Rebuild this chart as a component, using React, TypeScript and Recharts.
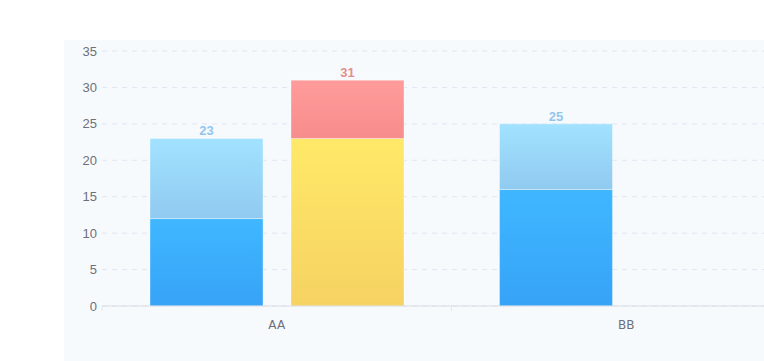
import React from 'react';
import { BarChart, Bar, XAxis, YAxis, CartesianGrid, LabelList } from 'recharts';

const categories = ['AA', 'BB'];
const blueBase = [12, 16];
const blueTop = [11, 9];
const blueTotal = [23, 25];
const yellowBase: (number | null)[] = [23, null];
const redTop: (number | null)[] = [8, null];
const warmTotal: (number | null)[] = [31, null];
const yTicks = [0, 5, 10, 15, 20, 25, 30, 35];

const data = categories.map((name, i) => ({
  name,
  blueBase: blueBase[i],
  blueTop: blueTop[i],
  blueTotal: blueTotal[i],
  yellowBase: yellowBase[i],
  redTop: redTop[i],
  warmTotal: warmTotal[i],
}));

const TICK_SIZE = 5;
const TICK_MARGIN = 9;

// category label plus faint boundary tick marks (ticks sit between bands)
const CategoryTick = (props: any) => {
  const { x, y, payload } = props;
  const axisY = y - TICK_SIZE - TICK_MARGIN;
  const half = payload && payload.offset ? payload.offset : 0;
  return (
    <g>
      <line x1={x - half} x2={x - half} y1={axisY} y2={axisY + TICK_SIZE} stroke="#e4e7ee" />
      <line x1={x + half} x2={x + half} y1={axisY} y2={axisY + TICK_SIZE} stroke="#e4e7ee" />
      <text x={x} y={y} dy="0.71em" textAnchor="middle" fill="#6E7079" fontSize={12} fontFamily="'DejaVu Sans', sans-serif">
        {payload.value}
      </text>
    </g>
  );
};

const barStroke = 'rgba(255,255,255,0.35)';
const labelFont = "'Liberation Sans', Arial, sans-serif";

export default function App() {
  return (
    <div style={{ position: 'fixed', left: 0, top: 0, width: 764, height: 361, overflow: 'hidden', background: '#fff' }}>
      <div style={{ position: 'absolute', left: 64, top: 40, width: 700, height: 321, background: '#f7fafd' }} />
      <div style={{ position: 'absolute', left: 8, top: 8 }}>
        <BarChart
          width={800}
          height={353}
          data={data}
          margin={{ top: 43, right: 7, bottom: 25, left: 54 }}
          barCategoryGap={48}
          barGap={28}
        >
          <defs>
            <linearGradient id="gBlue" x1="0" y1="0" x2="0" y2="1">
              <stop offset="0%" stopColor="#3fb7ff" />
              <stop offset="100%" stopColor="#37a3f7" />
            </linearGradient>
            <linearGradient id="gLightBlue" x1="0" y1="0" x2="0" y2="1">
              <stop offset="0%" stopColor="#a2e2ff" />
              <stop offset="100%" stopColor="#90caf0" />
            </linearGradient>
            <linearGradient id="gYellow" x1="0" y1="0" x2="0" y2="1">
              <stop offset="0%" stopColor="#ffe968" />
              <stop offset="100%" stopColor="#f6d262" />
            </linearGradient>
            <linearGradient id="gRed" x1="0" y1="0" x2="0" y2="1">
              <stop offset="0%" stopColor="#ff9c9b" />
              <stop offset="100%" stopColor="#f78c8c" />
            </linearGradient>
          </defs>
          <CartesianGrid vertical={false} stroke="#e0e6f1" strokeDasharray="5 5" />
          <XAxis
            dataKey="name"
            height={30}
            axisLine={{ stroke: '#d9dce3' }}
            tickLine={{ stroke: 'transparent' }}
            tickSize={TICK_SIZE}
            tickMargin={TICK_MARGIN}
            tick={<CategoryTick />}
            interval={0}
          />
          <YAxis
            width={40}
            domain={[0, 35]}
            ticks={yTicks}
            axisLine={false}
            tickLine={false}
            tickSize={0}
            tickMargin={5}
            tick={{ fill: '#6E7079', fontSize: 13, fontFamily: labelFont }}
          />
          <Bar dataKey="blueBase" stackId="a" fill="url(#gBlue)" stroke={barStroke} isAnimationActive={false} />
          <Bar dataKey="blueTop" stackId="a" fill="url(#gLightBlue)" stroke={barStroke} isAnimationActive={false}>
            <LabelList dataKey="blueTotal" position="top" offset={3} fill="#92c6ee" fontSize={13} fontWeight="bold" fontFamily={labelFont} />
          </Bar>
          <Bar dataKey="yellowBase" stackId="b" fill="url(#gYellow)" stroke={barStroke} isAnimationActive={false} />
          <Bar dataKey="redTop" stackId="b" fill="url(#gRed)" stroke={barStroke} isAnimationActive={false}>
            <LabelList dataKey="warmTotal" position="top" offset={3} fill="#e38f8f" fontSize={13} fontWeight="bold" fontFamily={labelFont} />
          </Bar>
        </BarChart>
      </div>
    </div>
  );
}
